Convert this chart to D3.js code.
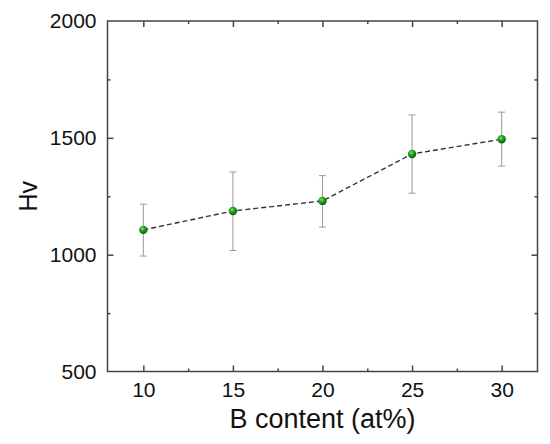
<!DOCTYPE html>
<html>
<head>
<meta charset="utf-8">
<script src="https://cdn.jsdelivr.net/npm/d3@7"></script>
<style>
html,body{margin:0;padding:0;background:#fff;}
svg{display:block;}
text{font-family:"Liberation Sans",Arial,sans-serif;fill:#111;}
</style>
</head>
<body>
<script>
const bContent = [10, 15, 20, 25, 30];
const hvValues = [1106, 1187, 1230, 1431, 1494];
const hvUpper = [1216, 1354, 1338, 1598, 1610];
const hvLower = [994, 1018, 1118, 1263, 1379];
const xTicks = [10, 15, 20, 25, 30];
const xMinorTicks = [12.5, 17.5, 22.5, 27.5];
const yTicks = [500, 1000, 1500, 2000];
const yMinorTicks = [750, 1250, 1750];

const W = 550, H = 444;
const m = {left: 107.5, top: 21, right: 537.5, bottom: 371.5};

const svg = d3.select("body").append("svg").attr("width", W).attr("height", H);

const x = d3.scaleLinear().domain([8, 32]).range([m.left, m.right]);
const y = d3.scaleLinear().domain([500, 2000]).range([m.bottom, m.top]);

const defs = svg.append("defs");
const grad = defs.append("radialGradient").attr("id", "ball")
  .attr("cx", "40%").attr("cy", "35%").attr("r", "65%");
grad.append("stop").attr("offset", "0%").attr("stop-color", "#7ee07e");
grad.append("stop").attr("offset", "45%").attr("stop-color", "#1fa21f");
grad.append("stop").attr("offset", "100%").attr("stop-color", "#0a5a0a");

const axisColor = "#444";

const gx = svg.append("g").attr("transform", `translate(0,${m.bottom})`)
  .call(d3.axisBottom(x).tickValues(xTicks).tickSize(-6).tickPadding(10.5).tickFormat(d3.format("d")));
const gxm = svg.append("g").attr("transform", `translate(0,${m.bottom})`)
  .call(d3.axisBottom(x).tickValues(xMinorTicks).tickSize(-3).tickFormat(""));
const gy = svg.append("g").attr("transform", `translate(${m.left},0)`)
  .call(d3.axisLeft(y).tickValues(yTicks).tickSize(-6).tickPadding(11).tickFormat(d3.format("d")));
const gym = svg.append("g").attr("transform", `translate(${m.left},0)`)
  .call(d3.axisLeft(y).tickValues(yMinorTicks).tickSize(-3).tickFormat(""));
const gxt = svg.append("g").attr("transform", `translate(0,${m.top})`)
  .call(d3.axisTop(x).tickValues(xTicks).tickSize(-6).tickFormat(""));
const gxtm = svg.append("g").attr("transform", `translate(0,${m.top})`)
  .call(d3.axisTop(x).tickValues(xMinorTicks).tickSize(-3).tickFormat(""));
const gyr = svg.append("g").attr("transform", `translate(${m.right},0)`)
  .call(d3.axisRight(y).tickValues(yTicks.filter(d => d !== 500 && d !== 2000)).tickSize(-6).tickFormat(""));
const gyrm = svg.append("g").attr("transform", `translate(${m.right},0)`)
  .call(d3.axisRight(y).tickValues(yMinorTicks).tickSize(-3).tickFormat(""));

[gx, gxm, gy, gym, gxt, gxtm, gyr, gyrm].forEach(g => {
  g.select(".domain").remove();
  g.selectAll(".tick line").attr("stroke", axisColor).attr("stroke-width", 1.5);
  g.selectAll(".tick text").attr("font-size", 21).attr("fill", "#111")
    .style("font-family", '"Liberation Sans",Arial,sans-serif');
});
gy.selectAll(".tick line").filter(d => d === 500 || d === 2000).remove();

// Frame
svg.append("rect").attr("x", m.left).attr("y", m.top)
  .attr("width", m.right - m.left).attr("height", m.bottom - m.top)
  .attr("fill", "none").attr("stroke", axisColor).attr("stroke-width", 1.5);

// Error bars
const eb = svg.append("g");
bContent.forEach((b, i) => {
  const cx = x(b);
  eb.append("line").attr("x1", cx).attr("x2", cx).attr("y1", y(hvLower[i])).attr("y2", y(hvUpper[i]))
    .attr("stroke", "#9a9a9a").attr("stroke-width", 1);
  [hvLower[i], hvUpper[i]].forEach(v => {
    eb.append("line").attr("x1", cx - 3.5).attr("x2", cx + 3.5).attr("y1", y(v)).attr("y2", y(v))
      .attr("stroke", "#9a9a9a").attr("stroke-width", 1);
  });
});

// Dashed line
const line = d3.line().x((d, i) => x(bContent[i])).y(d => y(d));
svg.append("path").datum(hvValues).attr("d", line)
  .attr("fill", "none").attr("stroke", "#333").attr("stroke-width", 1.4)
  .attr("stroke-dasharray", "5,3");

// Markers
svg.append("g").selectAll("circle").data(hvValues).join("circle")
  .attr("cx", (d, i) => x(bContent[i])).attr("cy", d => y(d)).attr("r", 4.2)
  .attr("fill", "url(#ball)");

// Axis titles
svg.append("text").attr("x", (m.left + m.right) / 2).attr("y", 428)
  .attr("text-anchor", "middle").attr("font-size", 27).text("B content (at%)");
svg.append("text").attr("transform", `translate(37,${(m.top + m.bottom) / 2}) rotate(-90)`)
  .attr("text-anchor", "middle").attr("font-size", 25).text("Hv");
</script>
</body>
</html>
